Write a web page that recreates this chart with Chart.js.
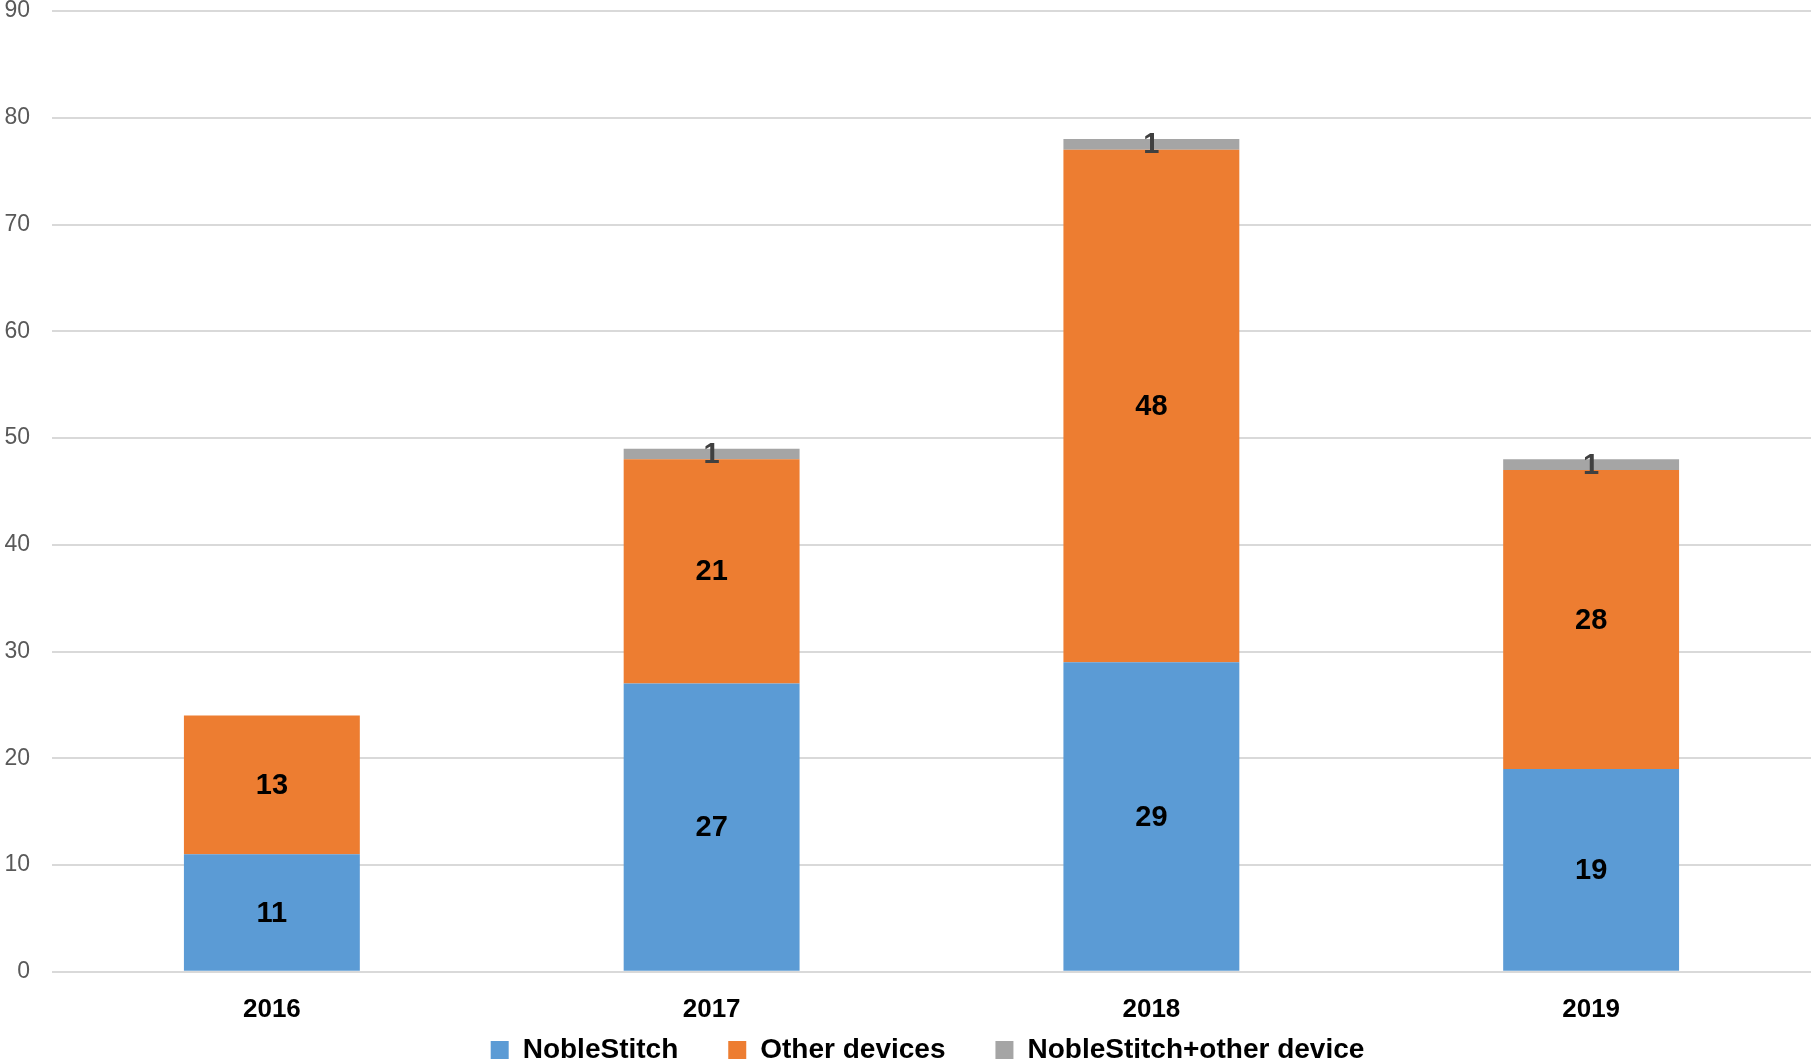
<!DOCTYPE html>
<html>
<head>
<meta charset="utf-8">
<script src="https://cdn.jsdelivr.net/npm/chart.js@4"></script>
<style>
    html, body { margin: 0; padding: 0; background: #fff; }
    #wrap { width: 1811px; height: 1063px; position: relative; }
</style>
</head>
<body>
<div id="wrap"><canvas id="chart"></canvas></div>
<script>
// Values
const years = ['2016', '2017', '2018', '2019'];
const nobleStitch = [11, 27, 29, 19];
const otherDevices = [13, 21, 48, 28];
const nobleStitchPlusOther = [null, 1, 1, 1];
const yTicks = [0, 10, 20, 30, 40, 50, 60, 70, 80, 90];

const FONT = "'Liberation Sans', Arial, sans-serif";
const LEGEND_SHIFT = 61;
const LEGEND_NUDGE_X = 20;

// draws the value in the middle of each bar segment
const segmentLabels = {
    id: 'segmentLabels',
    afterDatasetsDraw(chart) {
        const ctx = chart.ctx;
        ctx.save();
        ctx.textAlign = 'center';
        ctx.textBaseline = 'middle';
        ctx.font = 'bold 29px ' + FONT;
        chart.data.datasets.forEach((ds, i) => {
            const meta = chart.getDatasetMeta(i);
            meta.data.forEach((bar, j) => {
                const v = ds.data[j];
                if (v === null || v === undefined) return;
                ctx.fillStyle = ds.labelColor;
                ctx.fillText(String(v), bar.x, (bar.y + bar.base) / 2 + 1);
            });
        });
        ctx.restore();
    }
};

// legend padding gives the wide gaps between items, but we don't want
// the empty space above the items, so pull the box up over it
const tightLegend = {
    id: 'tightLegend',
    beforeLayout(chart) {
        const legend = chart.legend;
        if (!legend || legend._tight) return;
        legend._tight = true;
        const fit = legend.fit;
        legend.fit = function () {
            fit.call(this);
            this.height -= LEGEND_SHIFT;
        };
        const draw = legend.draw;
        legend.draw = function () {
            this.top -= LEGEND_SHIFT;
            this.left += LEGEND_NUDGE_X;
            this.right += LEGEND_NUDGE_X;
            draw.call(this);
            this.top += LEGEND_SHIFT;
            this.left -= LEGEND_NUDGE_X;
            this.right -= LEGEND_NUDGE_X;
        };
    }
};

new Chart(document.getElementById('chart'), {
    type: 'bar',
    data: {
        labels: years,
        datasets: [
            {
                label: 'NobleStitch',
                data: nobleStitch,
                backgroundColor: '#5B9BD5',
                labelColor: '#000000',
                barPercentage: 0.4,
                categoryPercentage: 1.0,
            },
            {
                label: 'Other devices',
                data: otherDevices,
                backgroundColor: '#ED7D31',
                labelColor: '#000000',
                barPercentage: 0.4,
                categoryPercentage: 1.0,
            },
            {
                label: 'NobleStitch+other device',
                data: nobleStitchPlusOther,
                backgroundColor: '#A5A5A5',
                labelColor: '#404040',
                barPercentage: 0.4,
                categoryPercentage: 1.0,
            },
        ],
    },
    options: {
        responsive: true,
        maintainAspectRatio: false,
        animation: false,
        layout: { padding: { left: 4, right: 0, top: 0, bottom: -11 } },
        plugins: {
            legend: {
                position: 'bottom',
                labels: {
                    font: { family: FONT, size: 28, weight: 'bold' },
                    color: '#000000',
                    boxWidth: 18,
                    boxHeight: 18,
                    padding: 50,
                },
            },
            tooltip: { enabled: false },
        },
        scales: {
            x: {
                stacked: true,
                grid: { display: false, drawTicks: false },
                border: { display: false },
                ticks: {
                    font: { family: FONT, size: 26, weight: 'bold' },
                    color: '#000000',
                    padding: 22,
                },
            },
            y: {
                stacked: true,
                min: 0,
                max: 90,
                afterBuildTicks: (axis) => {
                    axis.ticks = yTicks.map(v => ({ value: v }));
                },
                afterFit: (axis) => {
                    axis.width = 48;
                    axis.paddingTop = 11;
                    axis.paddingBottom = 0;
                },
                grid: { color: '#D9D9D9', lineWidth: 2, drawTicks: false },
                border: { display: false },
                ticks: {
                    font: { family: FONT, size: 23 },
                    color: '#595959',
                    padding: 22,
                },
            },
        },
    },
    plugins: [segmentLabels, tightLegend],
});
</script>
</body>
</html>
